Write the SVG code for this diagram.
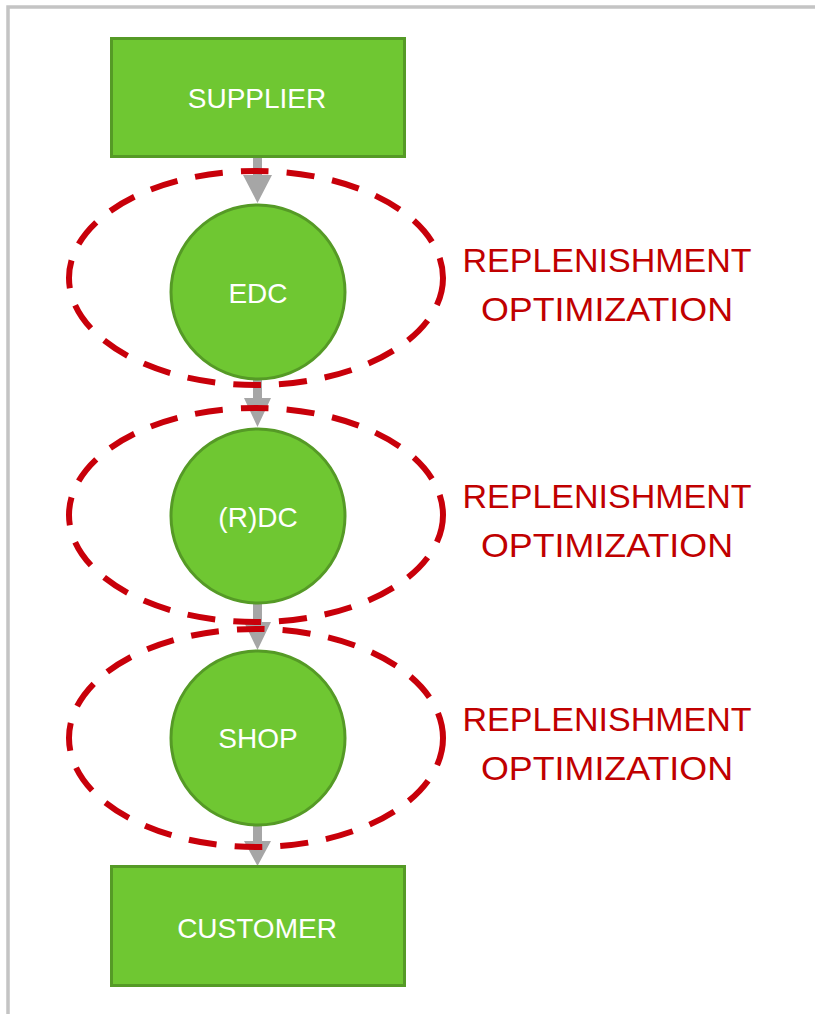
<svg xmlns="http://www.w3.org/2000/svg" width="815" height="1014" viewBox="0 0 815 1014">
<style>
.box{fill:#6fc732;stroke:#559a26;stroke-width:3}
.circ{fill:#6fc732;stroke:#559a26;stroke-width:3}
.lbl{font-family:"Liberation Sans",Arial,sans-serif;font-size:28px;fill:#ffffff;text-anchor:middle}
.opt{font-family:"Liberation Sans",Arial,sans-serif;font-size:34px;fill:#c00000;text-anchor:middle}
.ring{fill:none;stroke:#c8000a;stroke-width:6;stroke-dasharray:28 18}
.shaft{fill:#a6a6a6}
</style>
<rect x="0" y="0" width="815" height="1014" fill="#ffffff"/>
<rect x="8" y="7" width="830" height="1030" fill="none" stroke="#c4c4c4" stroke-width="3.5"/>
<g id="connectors">
<polygon class="shaft" points="253,157 262,157 262,175 272,175 257.5,203 243,175 253,175"/>
<polygon class="shaft" points="253,380 262,380 262,398 271,398 257.5,427 244,398 253,398"/>
<polygon class="shaft" points="253,604 262,604 262,622 271,622 257.5,650 244,622 253,622"/>
<polygon class="shaft" points="253,826 262,826 262,841 271,841 257.5,866 244,841 253,841"/>
</g>
<g id="supplier">
<rect class="box" x="111.5" y="38.5" width="293" height="118"/>
<text class="lbl" x="257" y="108">SUPPLIER</text>
</g>
<g id="edc">
<circle class="circ" cx="258" cy="292" r="87"/>
<text class="lbl" x="258" y="303">EDC</text>
</g>
<g id="rdc">
<circle class="circ" cx="258" cy="516" r="87"/>
<text class="lbl" x="258" y="527">(R)DC</text>
</g>
<g id="shop">
<circle class="circ" cx="258" cy="738" r="87"/>
<text class="lbl" x="258" y="748">SHOP</text>
</g>
<g id="customer">
<rect class="box" x="111.5" y="866.5" width="293" height="119"/>
<text class="lbl" x="257" y="938">CUSTOMER</text>
</g>
<g id="zone1">
<ellipse class="ring" cx="256" cy="278" rx="187" ry="107"/>
<text class="opt" x="607" y="272" textLength="289" lengthAdjust="spacingAndGlyphs">REPLENISHMENT</text>
<text class="opt" x="607" y="321" textLength="252" lengthAdjust="spacingAndGlyphs">OPTIMIZATION</text>
</g>
<g id="zone2">
<ellipse class="ring" cx="256" cy="515" rx="187" ry="107"/>
<text class="opt" x="607" y="508" textLength="289" lengthAdjust="spacingAndGlyphs">REPLENISHMENT</text>
<text class="opt" x="607" y="557" textLength="252" lengthAdjust="spacingAndGlyphs">OPTIMIZATION</text>
</g>
<g id="zone3">
<ellipse class="ring" cx="256" cy="738" rx="187" ry="109"/>
<text class="opt" x="607" y="731" textLength="289" lengthAdjust="spacingAndGlyphs">REPLENISHMENT</text>
<text class="opt" x="607" y="780" textLength="252" lengthAdjust="spacingAndGlyphs">OPTIMIZATION</text>
</g>
</svg>
